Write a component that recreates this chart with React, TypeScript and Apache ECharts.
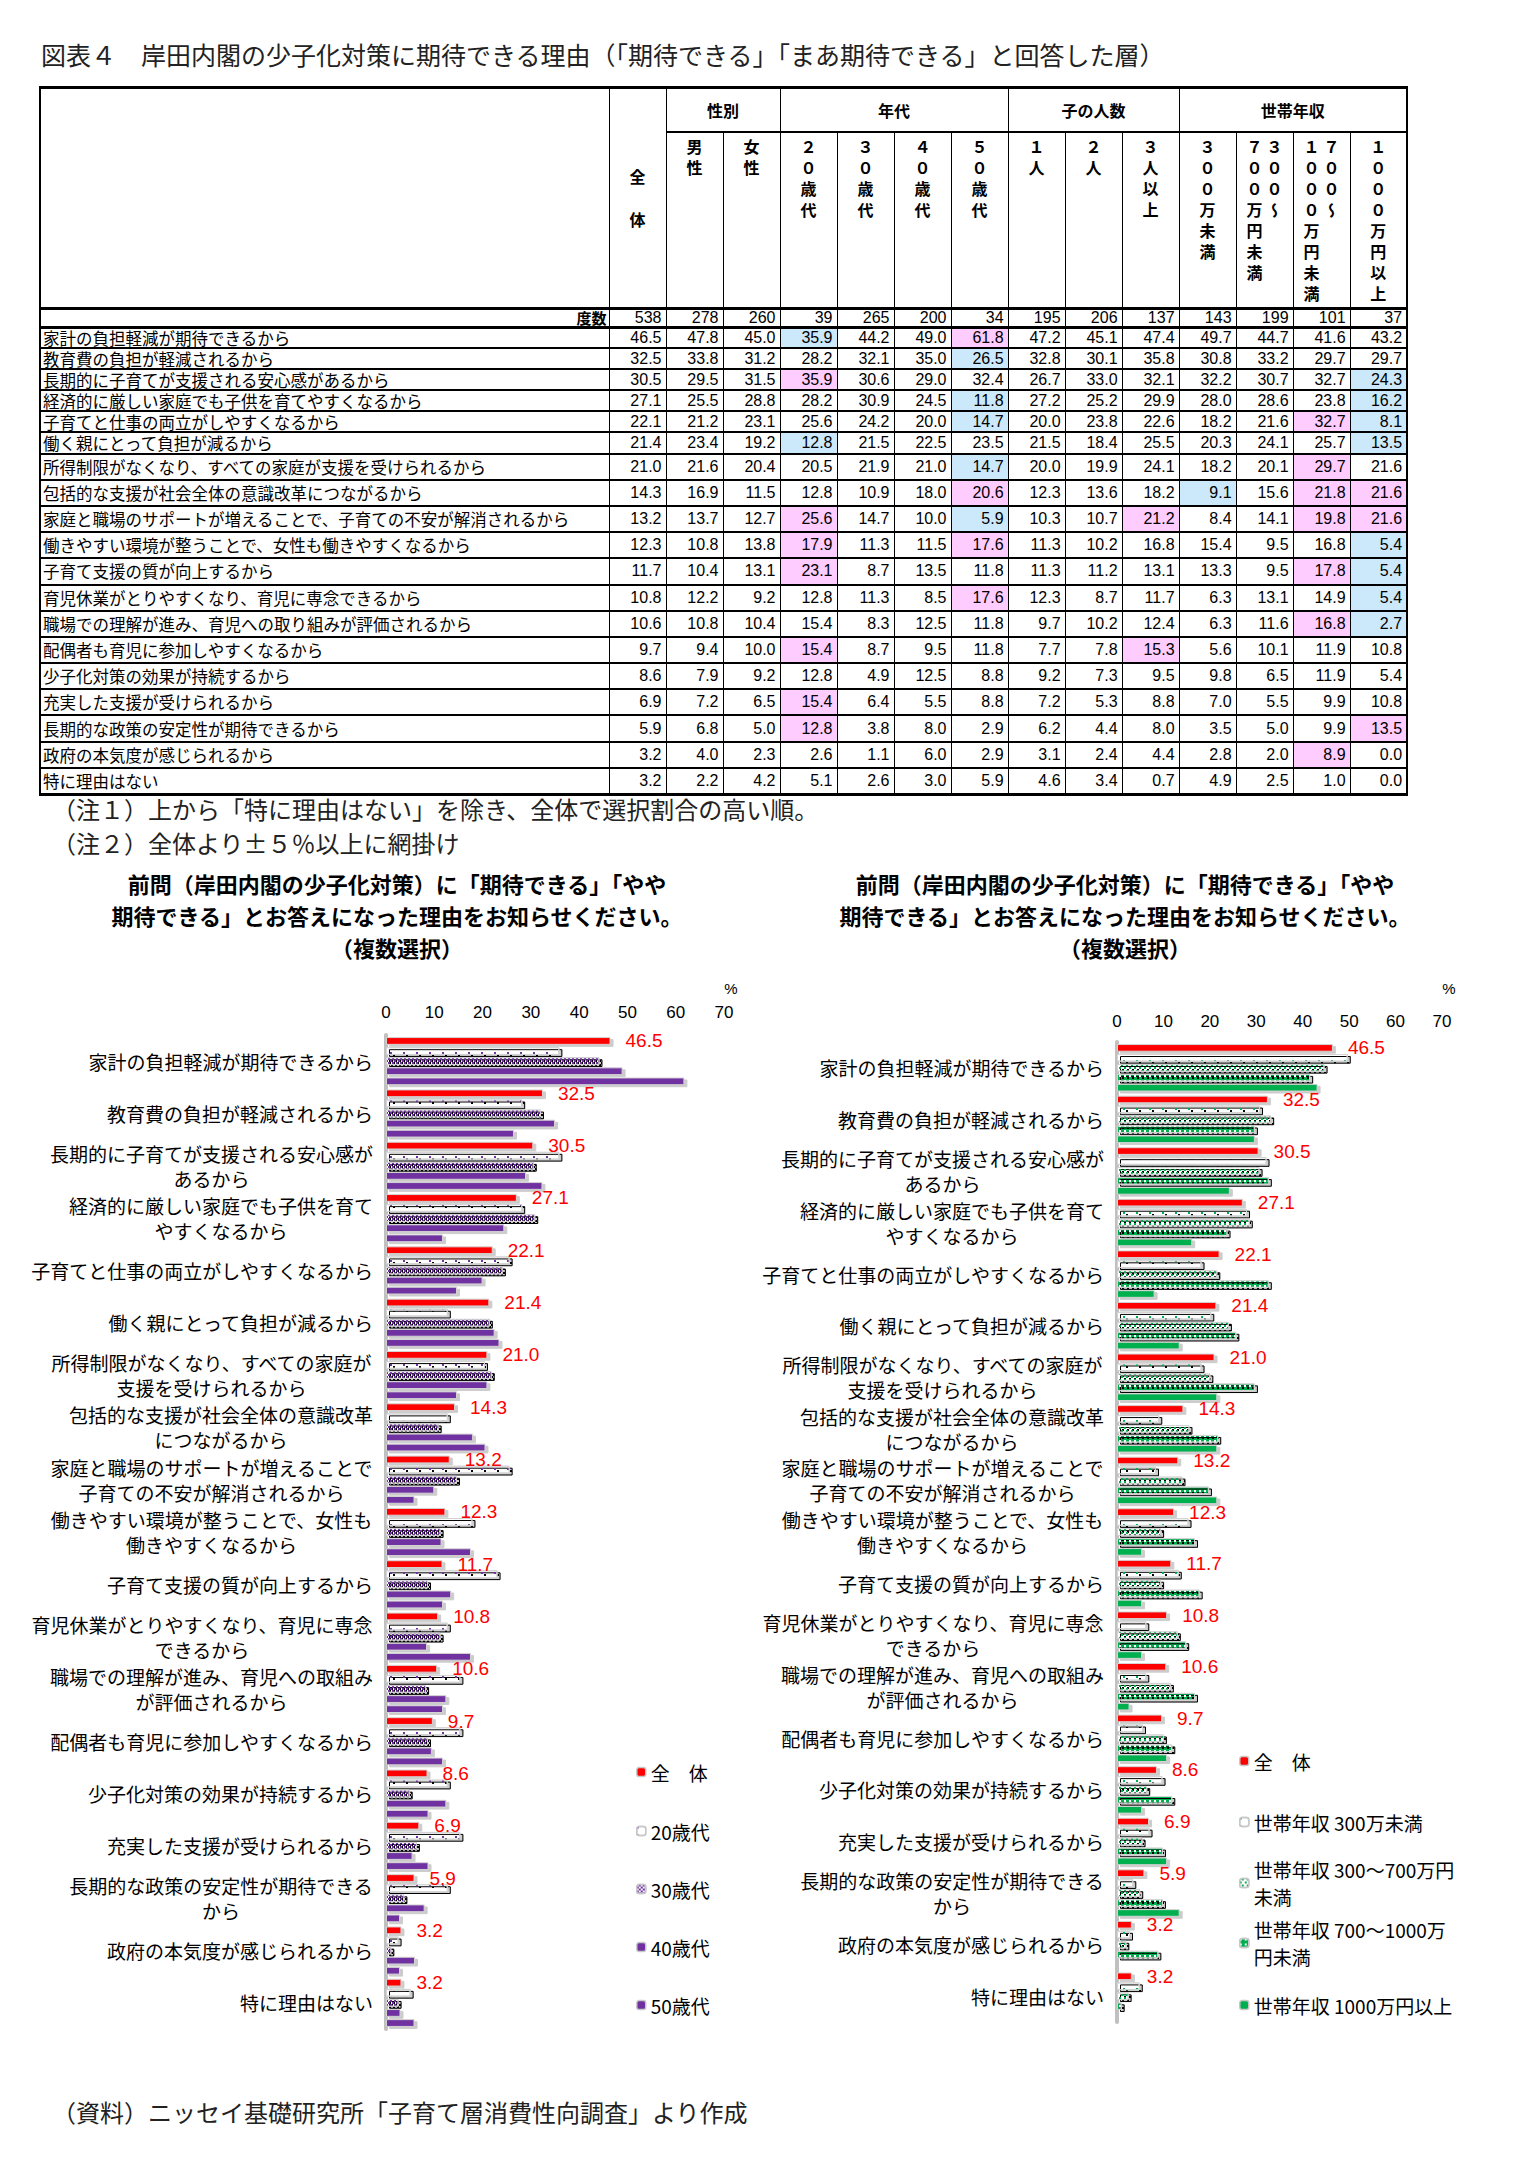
import { useEffect, useRef } from "react";
import * as echarts from "echarts";

const JP = '"Noto Sans CJK JP", "Noto Sans", sans-serif';
const NUM = '"Liberation Sans", Arial, sans-serif';

// ---- data (from the table) ----
const tableReasons = [
  "家計の負担軽減が期待できるから",
  "教育費の負担が軽減されるから",
  "長期的に子育てが支援される安心感があるから",
  "経済的に厳しい家庭でも子供を育てやすくなるから",
  "子育てと仕事の両立がしやすくなるから",
  "働く親にとって負担が減るから",
  "所得制限がなくなり、すべての家庭が支援を受けられるから",
  "包括的な支援が社会全体の意識改革につながるから",
  "家庭と職場のサポートが増えることで、子育ての不安が解消されるから",
  "働きやすい環境が整うことで、女性も働きやすくなるから",
  "子育て支援の質が向上するから",
  "育児休業がとりやすくなり、育児に専念できるから",
  "職場での理解が進み、育児への取り組みが評価されるから",
  "配偶者も育児に参加しやすくなるから",
  "少子化対策の効果が持続するから",
  "充実した支援が受けられるから",
  "長期的な政策の安定性が期待できるから",
  "政府の本気度が感じられるから",
  "特に理由はない",
];

const chartReasons = [
  "家計の負担軽減が期待できるから",
  "教育費の負担が軽減されるから",
  "長期的に子育てが支援される安心感が\nあるから",
  "経済的に厳しい家庭でも子供を育て\nやすくなるから",
  "子育てと仕事の両立がしやすくなるから",
  "働く親にとって負担が減るから",
  "所得制限がなくなり、すべての家庭が\n支援を受けられるから",
  "包括的な支援が社会全体の意識改革\nにつながるから",
  "家庭と職場のサポートが増えることで\n子育ての不安が解消されるから",
  "働きやすい環境が整うことで、女性も\n働きやすくなるから",
  "子育て支援の質が向上するから",
  "育児休業がとりやすくなり、育児に専念\nできるから",
  "職場での理解が進み、育児への取組み\nが評価されるから",
  "配偶者も育児に参加しやすくなるから",
  "少子化対策の効果が持続するから",
  "充実した支援が受けられるから",
  "長期的な政策の安定性が期待できる\nから",
  "政府の本気度が感じられるから",
  "特に理由はない",
];

const groups = [
  { name: "性別", span: 2 },
  { name: "年代", span: 4 },
  { name: "子の人数", span: 3 },
  { name: "世帯年収", span: 4 },
];
// "|" starts a new vertical column
const subHeads = [
  "男性", "女性", "２０歳代", "３０歳代", "４０歳代", "５０歳代",
  "１人", "２人", "３人以上",
  "３００万未満", "３００～|７００万円未満", "７００～|１０００万円未満", "１０００万円以上",
];
const counts = [538, 278, 260, 39, 265, 200, 34, 195, 206, 137, 143, 199, 101, 37];

const total = [46.5, 32.5, 30.5, 27.1, 22.1, 21.4, 21.0, 14.3, 13.2, 12.3, 11.7, 10.8, 10.6, 9.7, 8.6, 6.9, 5.9, 3.2, 3.2];
const male = [47.8, 33.8, 29.5, 25.5, 21.2, 23.4, 21.6, 16.9, 13.7, 10.8, 10.4, 12.2, 10.8, 9.4, 7.9, 7.2, 6.8, 4.0, 2.2];
const female = [45.0, 31.2, 31.5, 28.8, 23.1, 19.2, 20.4, 11.5, 12.7, 13.8, 13.1, 9.2, 10.4, 10.0, 9.2, 6.5, 5.0, 2.3, 4.2];
const age20 = [35.9, 28.2, 35.9, 28.2, 25.6, 12.8, 20.5, 12.8, 25.6, 17.9, 23.1, 12.8, 15.4, 15.4, 12.8, 15.4, 12.8, 2.6, 5.1];
const age30 = [44.2, 32.1, 30.6, 30.9, 24.2, 21.5, 21.9, 10.9, 14.7, 11.3, 8.7, 11.3, 8.3, 8.7, 4.9, 6.4, 3.8, 1.1, 2.6];
const age40 = [49.0, 35.0, 29.0, 24.5, 20.0, 22.5, 21.0, 18.0, 10.0, 11.5, 13.5, 8.5, 12.5, 9.5, 12.5, 5.5, 8.0, 6.0, 3.0];
const age50 = [61.8, 26.5, 32.4, 11.8, 14.7, 23.5, 14.7, 20.6, 5.9, 17.6, 11.8, 17.6, 11.8, 11.8, 8.8, 8.8, 2.9, 2.9, 5.9];
const child1 = [47.2, 32.8, 26.7, 27.2, 20.0, 21.5, 20.0, 12.3, 10.3, 11.3, 11.3, 12.3, 9.7, 7.7, 9.2, 7.2, 6.2, 3.1, 4.6];
const child2 = [45.1, 30.1, 33.0, 25.2, 23.8, 18.4, 19.9, 13.6, 10.7, 10.2, 11.2, 8.7, 10.2, 7.8, 7.3, 5.3, 4.4, 2.4, 3.4];
const child3 = [47.4, 35.8, 32.1, 29.9, 22.6, 25.5, 24.1, 18.2, 21.2, 16.8, 13.1, 11.7, 12.4, 15.3, 9.5, 8.8, 8.0, 4.4, 0.7];
const inc300 = [49.7, 30.8, 32.2, 28.0, 18.2, 20.3, 18.2, 9.1, 8.4, 15.4, 13.3, 6.3, 6.3, 5.6, 9.8, 7.0, 3.5, 2.8, 4.9];
const inc700 = [44.7, 33.2, 30.7, 28.6, 21.6, 24.1, 20.1, 15.6, 14.1, 9.5, 9.5, 13.1, 11.6, 10.1, 6.5, 5.5, 5.0, 2.0, 2.5];
const inc1000 = [41.6, 29.7, 32.7, 23.8, 32.7, 25.7, 29.7, 21.8, 19.8, 16.8, 17.8, 14.9, 16.8, 11.9, 11.9, 9.9, 9.9, 8.9, 1.0];
const incOver = [43.2, 29.7, 24.3, 16.2, 8.1, 13.5, 21.6, 21.6, 21.6, 5.4, 5.4, 5.4, 2.7, 10.8, 5.4, 10.8, 13.5, 0.0, 0.0];

const tableColumns = [total, male, female, age20, age30, age40, age50, child1, child2, child3, inc300, inc700, inc1000, incOver];

const chartTitle =
  "前問（岸田内閣の少子化対策）に「期待できる」「やや\n期待できる」とお答えになった理由をお知らせください。\n（複数選択）";

const PURPLE = "#7030a0";
const GREEN = "#00b050";
const RED = "#ff0000";

type SeriesCfg = { name: string; data: number[]; color: string; decal?: any; legendLines?: string };

const ageSeries: SeriesCfg[] = [
  { name: "全　体", data: total, color: RED },
  {
    name: "20歳代", data: age20, color: "#ffffff",
    decal: { symbol: "rect", symbolSize: 1, color: PURPLE, dashArrayX: [2, 11], dashArrayY: [2, 6] },
  },
  {
    name: "30歳代", data: age30, color: "#ffffff",
    decal: { symbol: "rect", symbolSize: 1, color: PURPLE, dashArrayX: [[2, 2], [0, 2, 2, 0]], dashArrayY: [2, 0] },
  },
  { name: "40歳代", data: age40, color: PURPLE },
  { name: "50歳代", data: age50, color: PURPLE },
];

const incomeSeries: SeriesCfg[] = [
  { name: "全　体", data: total, color: RED },
  {
    name: "世帯年収 300万未満", data: inc300, color: "#ffffff",
    decal: { symbol: "rect", symbolSize: 1, color: GREEN, dashArrayX: [2, 11], dashArrayY: [2, 6] },
  },
  {
    name: "世帯年収 300～700万円未満", data: inc700, color: "#ffffff", legendLines: "世帯年収 300～700万円\n未満",
    decal: { symbol: "rect", symbolSize: 1, color: GREEN, dashArrayX: [[1.5, 2.5], [0, 2, 1.5, 0.5]], dashArrayY: [1.5, 0.5] },
  },
  {
    name: "世帯年収 700～1000万円未満", data: inc1000, color: GREEN, legendLines: "世帯年収 700～1000万\n円未満",
    decal: { symbol: "rect", symbolSize: 1, color: "#ffffff", dashArrayX: [2, 3], dashArrayY: [2, 3] },
  },
  { name: "世帯年収 1000万円以上", data: incOver, color: GREEN },
];

interface ChartCfg {
  series: SeriesCfg[];
  titleX: number;
  gridLeft: number;
  gridTop: number;
  gridHeight: number;
  axisMargin: number;
  percentX: number;
  legendLeft: number;
  legendCenters: number[];
}

function buildOption(cfg: ChartCfg) {
  const fs = 19;
  const rich: Record<string, any> = {};
  for (let n = 3; n <= 24; n++) {
    rich["w" + n] = { width: n * fs, align: "center", fontSize: fs, fontFamily: JP, color: "#000", lineHeight: 25 };
  }
  const legends = cfg.series.map((s, i) => {
    const twoLines = !!s.legendLines;
    return {
      data: [s.name],
      orient: "vertical",
      left: cfg.legendLeft,
      top: cfg.legendCenters[i] - (twoLines ? 40.5 : 13.5),
      padding: 0,
      itemWidth: 9,
      itemHeight: 9,
      selectedMode: false,
      formatter: () => s.legendLines ?? s.name,
      itemStyle: { borderColor: "#c8c8c8", borderWidth: 1.5 },
      textStyle: {
        fontSize: 19,
        fontFamily: JP,
        color: "#000",
        lineHeight: 27,
        padding: twoLines ? [27, 0, 0, 0] : 0,
      },
    };
  });
  return {
    animation: false,
    graphic: [
      {
        type: "text",
        x: cfg.titleX,
        y: 7,
        style: {
          text: chartTitle,
          fontSize: 22,
          fontWeight: "bold",
          fontFamily: JP,
          fill: "#000",
          align: "center",
          textAlign: "center",
          verticalAlign: "top",
          textVerticalAlign: "top",
          lineHeight: 32,
        },
      },
      {
        type: "text",
        x: cfg.percentX,
        y: 128,
        style: {
          text: "%",
          fontSize: 15,
          fontFamily: NUM,
          fill: "#000",
          align: "center",
          textAlign: "center",
          verticalAlign: "middle",
          textVerticalAlign: "middle",
        },
      },
    ],
    legend: legends,
    grid: { left: cfg.gridLeft, top: cfg.gridTop, width: 338, height: cfg.gridHeight },
    xAxis: {
      type: "value",
      position: "top",
      min: 0,
      max: 70,
      interval: 10,
      axisLine: { show: false },
      axisTick: { show: false },
      splitLine: { show: false },
      axisLabel: { fontSize: 17, fontFamily: NUM, color: "#000", margin: cfg.axisMargin },
    },
    yAxis: {
      type: "category",
      inverse: true,
      data: chartReasons,
      axisLine: { show: true, lineStyle: { color: "#c0c0c0", width: 4 } },
      axisTick: { show: false },
      axisLabel: {
        interval: 0,
        margin: 13,
        fontSize: fs,
        fontFamily: JP,
        color: "#000",
        lineHeight: 25,
        rich,
        formatter: (v: string) => {
          const lines = v.split("\n");
          if (lines.length === 1) return v;
          const n = Math.max(...lines.map((l) => l.length));
          return lines.map((l) => `{w${n}|${l}}`).join("\n");
        },
      },
    },
    series: cfg.series.map((s, i) => ({
      type: "bar",
      name: s.name,
      data: s.data,
      barGap: "30%",
      barCategoryGap: "8%",
      silent: true,
      itemStyle: {
        color: s.color,
        decal: s.decal,
        borderColor: "#d4d4d4",
        borderWidth: 1,
        shadowColor: "#cccccc",
        shadowBlur: 0,
        shadowOffsetX: 3,
        shadowOffsetY: 2,
      },
      label:
        i === 0
          ? {
              show: true,
              position: "right",
              distance: 15,
              color: RED,
              fontSize: 19,
              fontFamily: NUM,
              formatter: (p: any) => Number(p.value).toFixed(1),
            }
          : { show: false },
    })),
  };
}

function ReasonChart({ cfg, style }: { cfg: ChartCfg; style: React.CSSProperties }) {
  const ref = useRef<HTMLDivElement>(null);
  useEffect(() => {
    if (!ref.current) return;
    const chart = echarts.init(ref.current, undefined, { renderer: "svg" });
    chart.setOption(buildOption(cfg) as any);
    return () => chart.dispose();
  }, [cfg]);
  return <div ref={ref} style={style} />;
}

const leftCfg: ChartCfg = {
  series: ageSeries,
  titleX: 397,
  gridLeft: 386,
  gridTop: 175,
  gridHeight: 994,
  axisMargin: 14,
  percentX: 731,
  legendLeft: 636,
  legendCenters: [912, 971, 1029, 1087, 1145],
};

const rightCfg: ChartCfg = {
  series: incomeSeries,
  titleX: 366,
  gridLeft: 345,
  gridTop: 182,
  gridHeight: 980,
  axisMargin: 12,
  percentX: 690,
  legendLeft: 480,
  legendCenters: [901, 962, 1023, 1083, 1145],
};

const HB = "2px solid #000";
const VB = "1px solid #000";

function VerticalHead({ text }: { text: string }) {
  const parts = text.split("|");
  return (
    <div
      style={{
        writingMode: "vertical-rl",
        textOrientation: "upright",
        fontWeight: 700,
        fontSize: 16,
        letterSpacing: 5,
        lineHeight: "20px",
        margin: "0 auto",
      }}
    >
      {parts.map((p, i) => (
        <span key={i}>
          {p}
          {i < parts.length - 1 && <br />}
        </span>
      ))}
    </div>
  );
}

function SurveyTable() {
  const cellBase: React.CSSProperties = {
    padding: 0,
    lineHeight: "16px",
  };
  const valueCell: React.CSSProperties = {
    ...cellBase,
    borderLeft: VB,
    borderTop: HB,
    textAlign: "right",
    fontFamily: NUM,
    fontSize: 16,
    paddingRight: 4,
  };
  const rowHeight = (ri: number) => (ri < 6 ? 21.1 : 26.2);
  return (
    <table
      style={{
        position: "absolute",
        left: 39,
        top: 86,
        width: 1367,
        borderCollapse: "collapse",
        tableLayout: "fixed",
        border: "2px solid #000",
        borderTop: "3px solid #000",
        borderBottom: "3px solid #000",
        color: "#000",
      }}
    >
      <colgroup>
        <col style={{ width: 569 }} />
        {counts.map((_, i) => (
          <col key={i} style={{ width: 57 }} />
        ))}
      </colgroup>
      <tbody>
        <tr style={{ height: 44 }}>
          <td rowSpan={2} style={{ ...cellBase, borderRight: VB }} />
          <td
            rowSpan={2}
            style={{ ...cellBase, borderLeft: VB, textAlign: "center", fontWeight: 700, fontSize: 16, fontFamily: JP }}
          >
            <div style={{ lineHeight: "43px" }}>
              全<br />体
            </div>
          </td>
          {groups.map((g) => (
            <td
              key={g.name}
              colSpan={g.span}
              style={{
                ...cellBase,
                borderLeft: VB,
                borderBottom: HB,
                textAlign: "center",
                fontWeight: 700,
                fontSize: 16,
                fontFamily: JP,
              }}
            >
              {g.name}
            </td>
          ))}
        </tr>
        <tr style={{ height: 174 }}>
          {subHeads.map((h) => (
            <td key={h} style={{ ...cellBase, borderLeft: VB, verticalAlign: "top", paddingTop: 6, fontFamily: JP }}>
              <VerticalHead text={h} />
            </td>
          ))}
        </tr>
        <tr style={{ height: 19 }}>
          <td
            style={{
              ...cellBase,
              borderTop: "3px solid #000",
              textAlign: "right",
              fontWeight: 700,
              fontSize: 15,
              fontFamily: JP,
              paddingRight: 2,
            }}
          >
            度数
          </td>
          {counts.map((c, i) => (
            <td key={i} style={{ ...valueCell, borderTop: "3px solid #000" }}>
              {c}
            </td>
          ))}
        </tr>
        {tableReasons.map((r, ri) => (
          <tr key={r} style={{ height: rowHeight(ri) }}>
            <td
              style={{
                ...cellBase,
                lineHeight: "18px",
                borderTop: ri === 0 ? "3px solid #000" : HB,
                fontSize: 16.5,
                fontFamily: JP,
                paddingLeft: 2,
                whiteSpace: "nowrap",
              }}
            >
              {r}
            </td>
            {tableColumns.map((col, ci) => {
              const d = col[ri] - total[ri];
              const bg = ci === 0 ? undefined : d >= 4.95 ? "#ffccff" : d <= -4.95 ? "#cce8fb" : undefined;
              return (
                <td
                  key={ci}
                  style={{ ...valueCell, borderTop: ri === 0 ? "3px solid #000" : HB, background: bg }}
                >
                  {col[ri].toFixed(1)}
                </td>
              );
            })}
          </tr>
        ))}
      </tbody>
    </table>
  );
}

export default function App() {
  useEffect(() => {
    document.body.style.margin = "0";
  }, []);
  const textStyle: React.CSSProperties = {
    position: "absolute",
    fontFamily: JP,
    color: "#222",
    whiteSpace: "nowrap",
    lineHeight: 1,
  };
  return (
    <div style={{ position: "relative", width: 1518, height: 2169, background: "#fff" }}>
      <div style={{ ...textStyle, left: 41, top: 42, fontSize: 25 }}>
        図表４　岸田内閣の少子化対策に期待できる理由（「期待できる」「まあ期待できる」と回答した層）
      </div>
      <SurveyTable />
      <div style={{ ...textStyle, left: 52, top: 797, fontSize: 24 }}>
        （注１）上から「特に理由はない」を除き、全体で選択割合の高い順。
      </div>
      <div style={{ ...textStyle, left: 52, top: 831, fontSize: 24 }}>（注２）全体より±５％以上に網掛け</div>
      <ReasonChart cfg={leftCfg} style={{ position: "absolute", left: 0, top: 860, width: 759, height: 1240 }} />
      <ReasonChart cfg={rightCfg} style={{ position: "absolute", left: 759, top: 860, width: 759, height: 1240 }} />
      <div style={{ ...textStyle, left: 52, top: 2100, fontSize: 24 }}>
        （資料）ニッセイ基礎研究所「子育て層消費性向調査」より作成
      </div>
    </div>
  );
}
